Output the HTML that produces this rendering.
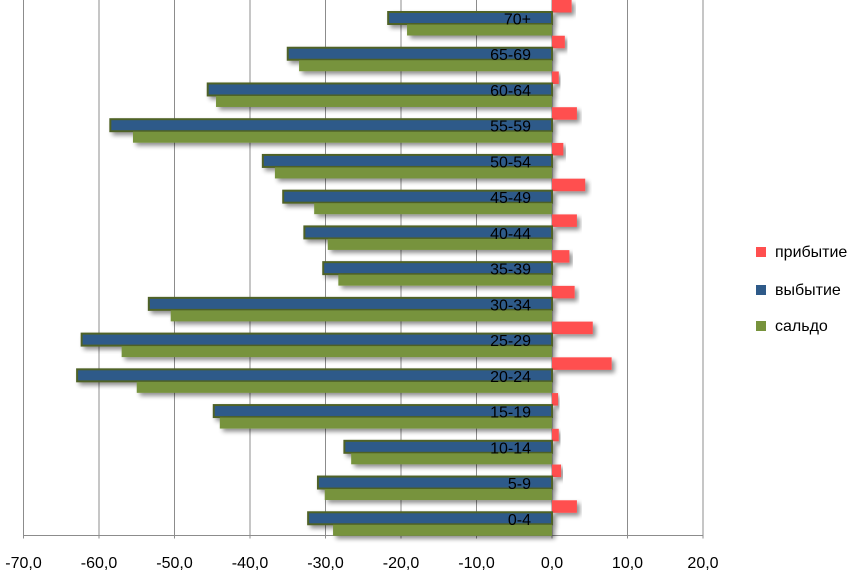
<!DOCTYPE html>
<html><head><meta charset="utf-8"><style>
body{margin:0;background:#fff;}
svg text{font-family:"Liberation Sans",sans-serif;}
</style></head><body>
<svg id="c" width="862" height="577" xmlns="http://www.w3.org/2000/svg">
<defs><filter id="sh" x="-20%" y="-50%" width="140%" height="220%"><feGaussianBlur in="SourceAlpha" stdDeviation="2.5"/><feOffset dx="3" dy="3"/><feComponentTransfer><feFuncA type="linear" slope="0.45"/></feComponentTransfer><feMerge><feMergeNode/><feMergeNode in="SourceGraphic"/></feMerge></filter></defs>
<g id="grid"></g><g id="bars"></g><g id="labels"></g><g id="legend"></g>
</svg>
<script>
const categories=["70+","65-69","60-64","55-59","50-54","45-49","40-44","35-39","30-34","25-29","20-24","15-19","10-14","5-9","0-4"];
const arrivals=[2.6,1.7,0.9,3.3,1.5,4.4,3.3,2.3,3.0,5.4,7.9,0.8,0.9,1.2,3.3];
const departures=[-21.7,-35.0,-45.6,-58.5,-38.3,-35.6,-32.8,-30.3,-53.4,-62.3,-62.9,-44.8,-27.5,-31.0,-32.3];
const balance=[-19.2,-33.5,-44.5,-55.5,-36.7,-31.5,-29.7,-28.3,-50.5,-57.0,-55.0,-44.0,-26.6,-30.1,-29.0];
const ticks=[-70,-60,-50,-40,-30,-20,-10,0,10,20];
const NS="http://www.w3.org/2000/svg";
const X0=552,K=7.55,TOP=-0.5,BOT=535.5;
const bandH=(BOT-TOP)/categories.length;
const x=v=>X0+v*K;
const yb=i=>TOP+i*bandH;
function mk(tag,attrs,parent){const e=document.createElementNS(NS,tag);for(const k in attrs)e.setAttribute(k,attrs[k]);parent.appendChild(e);return e;}
const grid=document.getElementById('grid'),bars=document.getElementById('bars'),labels=document.getElementById('labels'),legend=document.getElementById('legend');
ticks.forEach(t=>{
 const l=mk('line',{x1:x(t),x2:x(t),y1:0,y2:BOT+3,stroke:'#8c8c8c','stroke-width':1},grid);
 
 
 const tx=mk('text',{x:x(t),y:568,'font-size':16,'text-anchor':'middle',fill:'#000'},grid);
 tx.textContent=t.toFixed(1).replace('.',',');
 
 
});
const ax=mk('line',{x1:x(-70),x2:x(20),y1:BOT,y2:BOT,stroke:'#8c8c8c','stroke-width':1},grid);


function bar(v,y,h,fill,stroke,name){
 const a=Math.min(x(0),x(v)),w=Math.abs(x(v)-x(0));
 const r=mk('rect',{x:a,y:y,width:w,height:h,fill:fill,filter:'url(#sh)'},bars);
 if(stroke){r.setAttribute('stroke',stroke);r.setAttribute('stroke-width',2);}
 
 
}
categories.forEach((c,i)=>{
 const y=yb(i);
 bar(arrivals[i],y+0.5,12.5,'#ff4f4f',null,'bar-arrivals');
 bar(departures[i],y+12.5,12,'#2e5a89','#4f6228','bar-departures');
 bar(balance[i],y+25,11,'#77933c',null,'bar-balance');
});
categories.forEach((c,i)=>{
 const t=mk('text',{x:531,y:yb(i)+25,'font-size':16,'text-anchor':'end',fill:'#000'},labels);
 t.textContent=c;
 
 
});
const yax=mk('line',{x1:x(-70),x2:x(-70),y1:0,y2:BOT,stroke:'#8c8c8c'},grid);


[["прибытие","#ff4f4f",253],["выбытие","#2e5a89",291],["сальдо","#77933c",327]].forEach(([n,col,yy])=>{
 const g=mk('g',{},legend);
 
 
 mk('rect',{x:756,y:yy-6,width:10,height:10,fill:col},g);
 const t=mk('text',{x:775,y:yy+4,'font-size':16,fill:'#000'},g);
 t.textContent=n;
});
</script>
</body></html>
